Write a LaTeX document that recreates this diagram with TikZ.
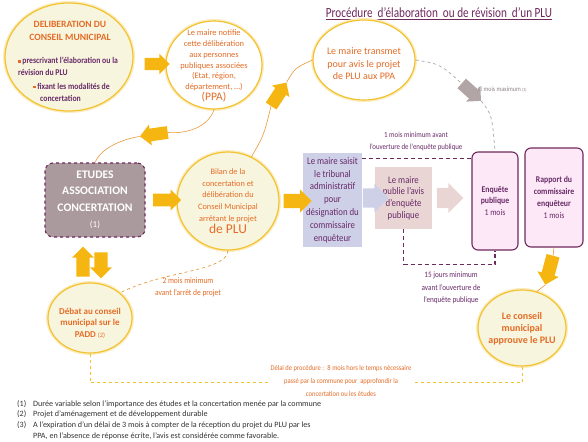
\documentclass[tikz,border=0pt]{standalone}
\usepackage{fontspec}
\setmainfont{Carlito}
\newfontfamily\narrowfont[FakeStretch=0.8]{Carlito}
\newfontfamily\condfont[FakeStretch=0.88]{Carlito}
\usetikzlibrary{shapes.geometric, shapes.arrows, arrows}
\usetikzlibrary{positioning}
\definecolor{jauneBord}{RGB}{242,194,48}
\definecolor{jaunePale}{RGB}{248,245,222}
\definecolor{jauneFleche}{RGB}{246,182,18}
\definecolor{orangeTxt}{RGB}{228,108,38}
\definecolor{violet}{RGB}{110,40,92}
\definecolor{violetTxt}{RGB}{104,42,104}
\definecolor{grisMauve}{RGB}{170,153,157}
\definecolor{bleuPale}{RGB}{206,208,232}
\definecolor{rosePale}{RGB}{233,214,212}
\definecolor{roseEnq}{RGB}{252,232,246}
\definecolor{grisFleche}{RGB}{178,165,165}
\definecolor{filOrange}{RGB}{232,152,58}
\definecolor{notesTxt}{RGB}{50,50,50}
\newcommand{\puce}{\textcolor{orangeTxt}{\rule[1pt]{2.4pt}{2.4pt}}}
\tikzstyle{bulle} = [ellipse, draw=jauneBord, line width=1.2pt, fill=jaunePale, inner sep=0pt, preaction={draw=jauneBord!30, line width=4pt}]
\tikzstyle{bulleb} = [bulle, fill=white]
\tikzstyle{txtorange} = [text=orangeTxt, align=center, inner sep=0pt]
\tikzstyle{txtviolet} = [text=violetTxt, align=center, inner sep=1pt, font=\condfont\fontsize{10}{12.8}\selectfont]
\tikzstyle{fleche} = [single arrow, fill=jauneFleche, draw=none, single arrow head extend=4pt]
\tikzstyle{boite} = [rectangle, draw=violet, line width=1.1pt, fill=roseEnq, rounded corners=6pt, text=violetTxt, align=center, font=\condfont\fontsize{8.8}{11.8}\selectfont]
\tikzstyle{pointille} = [dashed, dash pattern=on 4pt off 3pt, draw=violet, line width=1.1pt]
\tikzstyle{fil} = [draw=filOrange, line width=0.6pt]

\begin{document}
\begin{tikzpicture}[x=1pt, y=-1pt]
  \useasboundingbox (0,0) rectangle (588,441);
  % titre
  \node[text=violet, font=\narrowfont\fontsize{14}{16}\selectfont] (titre) at (439,14) {\underline{Procédure \ d’élaboration \ ou de révision \ d’un PLU}};

  % bulles
  \node[bulle, minimum width=128pt, minimum height=108pt] (delib) at (69,57) {};
  \node[txtorange, font=\bfseries\fontsize{9.6}{13}\selectfont] (delibTitre) at (70,31) {DELIBERATION DU\\CONSEIL MUNICIPAL};
  \node[text=violetTxt, align=left, inner sep=0pt, anchor=north west, font=\condfont\bfseries\fontsize{8.8}{11.5}\selectfont] (puce1) at (18,57) {\puce\ prescrivant l’élaboration ou la\\révision du PLU};
  \node[text=violetTxt, align=left, inner sep=0pt, anchor=north west, font=\condfont\bfseries\fontsize{8.8}{12}\selectfont] (puce2) at (33,83) {\puce\ fixant les modalités de\\\hspace*{7pt}concertation};

  \node[bulleb, minimum width=96pt, minimum height=88pt] (notif) at (214,65) {};
  \node[txtorange, font=\fontsize{8.4}{10.8}\selectfont] (notifTxt) at (214,66) {Le maire notifie\\cette délibération\\aux personnes\\publiques associées\\(Etat, région,\\département, …)\\{\fontsize{11.5}{12}\selectfont(PPA)}};

  \node[bulleb, minimum width=102pt, minimum height=80pt] (transmet) at (364,60) {};
  \node[txtorange, font=\fontsize{10}{12.5}\selectfont] (transmetTxt) at (364,64) {Le maire transmet\\pour avis le projet\\de PLU aux PPA};

  \node[bulle, minimum width=102pt, minimum height=98pt] (bilan) at (228,201) {};
  \node[txtorange, font=\fontsize{8.3}{11.7}\selectfont] (bilanTxt) at (228,201) {Bilan de la\\concertation et\\délibération du\\Conseil Municipal\\arrêtant le projet\\{\fontsize{13.5}{15}\selectfont de PLU}};

  \node[bulle, minimum width=84pt, minimum height=70pt] (debat) at (90,318) {};
  \node[txtorange, font=\bfseries\fontsize{9}{11.3}\selectfont] (debatTxt) at (90,323) {Débat au conseil\\municipal sur le\\PADD {\mdseries\fontsize{6.5}{8}\selectfont(2)}};

  \node[bulle, minimum width=88pt, minimum height=76pt] (approuve) at (522,328) {};
  \node[txtorange, font=\bfseries\fontsize{10}{11.8}\selectfont] (approuveTxt) at (522,329) {Le conseil\\municipal\\approuve le PLU};

  % boites
  \node[rectangle, rounded corners=8pt, draw=violet, dashed, line width=1.1pt, fill=grisMauve, minimum width=100pt, minimum height=74pt, text=white, align=center, font=\bfseries\fontsize{11.6}{16.5}\selectfont] (etudes) at (95,200) {ETUDES\\ASSOCIATION\\CONCERTATION\\{\mdseries\fontsize{9}{10}\selectfont(1)}};
  \node[txtviolet, fill=bleuPale, minimum width=59pt, minimum height=94pt] (saisit) at (332.5,200) {Le maire saisit\\le tribunal\\administratif\\pour\\désignation du\\commissaire\\enquêteur};
  \node[txtviolet, fill=rosePale, minimum width=57pt, minimum height=62pt, font=\condfont\fontsize{10}{11.7}\selectfont] (publie) at (403.5,198) {Le maire\\publie l’avis\\d’enquête\\publique};
  \node[boite, minimum width=46pt, minimum height=98pt] (enquete) at (495,201) {\textbf{Enquête}\\\textbf{publique}\\1 mois};
  \node[boite, minimum width=58pt, minimum height=99pt] (rapport) at (554,197.5) {\textbf{Rapport du}\\\textbf{commissaire}\\\textbf{enquêteur}\\1 mois};

  % fleches pleines
  \node[fleche, minimum height=25pt, minimum width=20pt, inner sep=6pt] (fDelib) at (154,64) {};
  \node[fleche, minimum height=28pt, minimum width=21pt, inner sep=6pt, rotate=188] (fNotif) at (157,134) {};
  \node[fleche, minimum height=28pt, minimum width=21pt, inner sep=6pt] (fEtudes) at (164,200) {};
  \node[fleche, minimum height=28pt, minimum width=21pt, inner sep=6pt, rotate=57] (fBilanHaut) at (277,97) {};
  \node[fleche, minimum height=28pt, minimum width=23pt, inner sep=6.5pt] (fBilan) at (294,201) {};
  \node[fleche, minimum height=30pt, minimum width=22pt, inner sep=6pt, rotate=90] (fMonte) at (83,265) {};
  \node[fleche, minimum height=26pt, minimum width=22pt, inner sep=6pt, rotate=-90] (fDescend) at (101,262) {};
  \node[fleche, fill=bleuPale, minimum height=21pt, minimum width=29pt, inner sep=8pt] (fSaisit) at (371,198) {};
  \node[fleche, fill=rosePale, minimum height=17pt, minimum width=30pt, inner sep=8pt] (fPublie) at (445,198) {};
  \node[fleche, fill=grisFleche, minimum height=26pt, minimum width=21pt, inner sep=6pt, rotate=-42] (fGris) at (469,90) {};
  \node[fleche, minimum height=30pt, minimum width=22pt, inner sep=6pt, rotate=-105] (fRapport) at (550,267) {};

  % liaisons fines
  \draw[fil] (notif.south) .. controls (208,128) and (185,134) .. (fNotif.tail);
  \draw[fil] (fNotif.tip) .. controls (118,140) and (100,150) .. (etudes.north);
  \draw[fil] (bilan.62) .. controls (264,135) .. (fBilanHaut.tail);
  \draw[fil] (fBilanHaut.tip) .. controls (295,68) .. (transmet.west);
  \draw[dashed, draw=grisFleche, line width=0.7pt] (transmet.east) .. controls (440,64) .. (fGris.tail);
  \draw[dashed, draw=grisFleche, line width=0.7pt] (fGris.tip) .. controls (492,115) .. (enquete.north);
  \draw[fil] (rapport.south) -- (fRapport.tail);
  \draw[fil] (fRapport.tip) -- (approuve.68);
  \draw[dashed, draw=filOrange, line width=0.7pt] (bilan.south) .. controls (226,272) and (165,270) .. (debat.north east);

  % delais
  \coordinate (d1) at ([yshift=-6pt]saisit.north east);
  \draw[pointille] (d1) -- (d1 -| enquete.west);
  \draw[pointille] (publie.south) -- ++(0,35) -| (enquete.south);
  \draw[dashed, draw=jauneBord, line width=0.8pt] (debat.south) -- ++(0,29) -| (approuve.south);

  \node[text=violetTxt, align=center, font=\condfont\fontsize{7.8}{12}\selectfont] (lblUnMois) at (416,141) {1 mois minimum avant\\l’ouverture de l’enquête publique};
  \node[text=violetTxt, align=center, font=\condfont\fontsize{8.2}{12.5}\selectfont] (lblQuinze) at (451,288) {15 jours minimum\\avant l’ouverture de\\l’enquête publique};
  \node[text=orangeTxt, align=center, font=\condfont\fontsize{8.5}{12}\selectfont] (lblDeux) at (188,287) {2 mois minimum\\avant l’arrêt de projet};
  \node[text=grisFleche!80!black, anchor=west, inner sep=0pt, font=\condfont\fontsize{6.8}{8}\selectfont] (lblTrois) at (479,89) {3 mois maximum {\fontsize{4.5}{5}\selectfont(3)}};
  \node[text=orangeTxt, fill=white, align=center, inner sep=2pt, font=\condfont\fontsize{7.4}{13}\selectfont] (lblDelai) at (341,381) {Délai de procédure : \ 8 mois hors le temps nécessaire\\passé par la commune pour \ approfondir la\\concertation ou les études};

  % notes
  \node[text=notesTxt, align=left, anchor=north west, inner sep=0pt, font=\fontsize{8.1}{10.7}\selectfont] (notes) at (17,400) {\makebox[16pt][l]{(1)}Durée variable selon l’importance des études et la concertation menée par la commune\\\makebox[16pt][l]{(2)}Projet d’aménagement et de développement durable\\\makebox[16pt][l]{(3)}A l’expiration d’un délai de 3 mois à compter de la réception du projet du PLU par les\\\hspace*{16pt}PPA, en l’absence de réponse écrite, l’avis est considérée comme favorable.};
\end{tikzpicture}
\end{document}
